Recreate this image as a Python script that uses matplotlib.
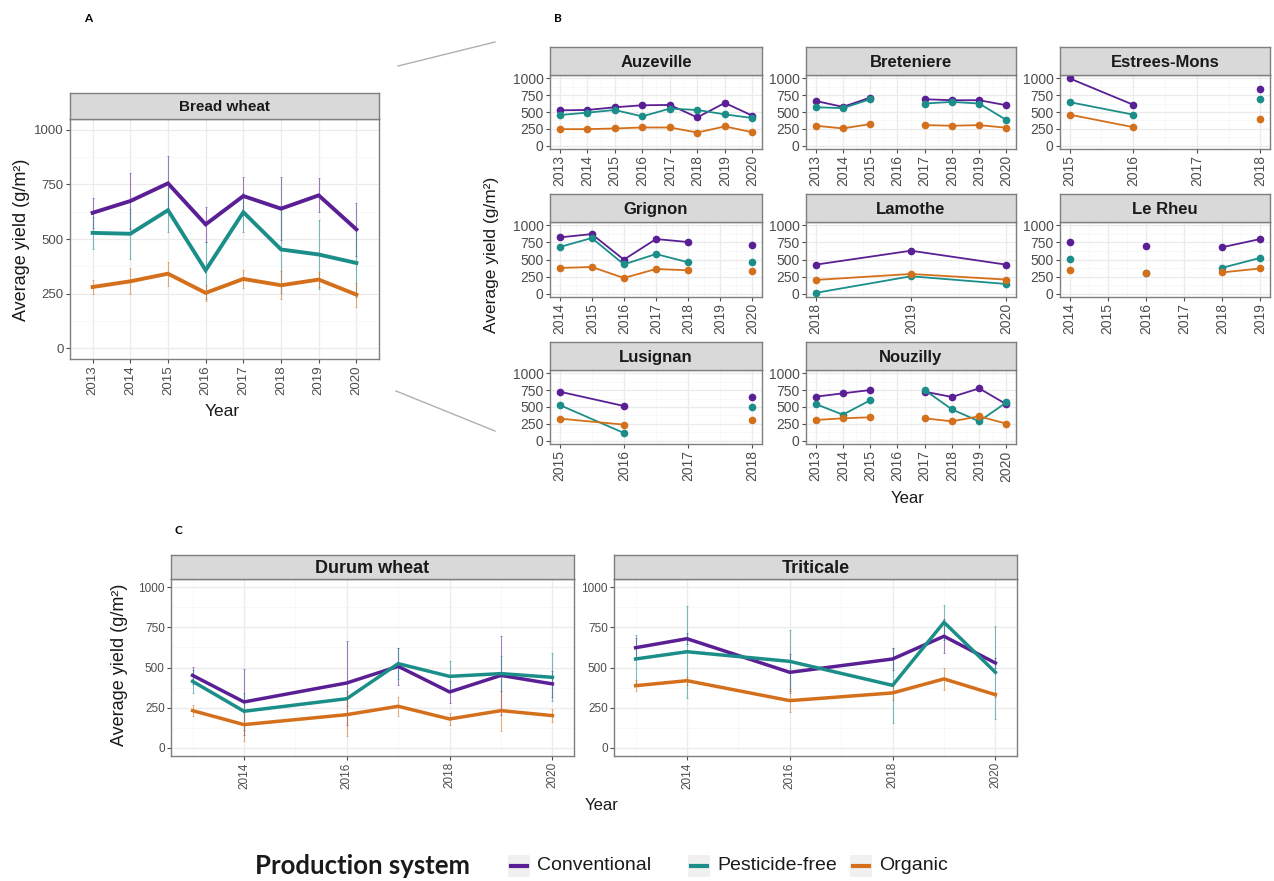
import numpy as np
import matplotlib.pyplot as plt
from matplotlib.lines import Line2D
from matplotlib.patches import Rectangle

plt.rcParams['font.family'] = ['Liberation Sans', 'DejaVu Sans']

W, H = 1274, 881

col_conv = '#5A1F94'
col_pf = '#1B8E89'
col_org = '#D4701B'
systems = ['Conventional', 'Pesticide-free', 'Organic']

# ---- A: bread wheat (means and sd)
bread_years = [2013, 2014, 2015, 2016, 2017, 2018, 2019, 2020]
bread_conv = [620, 674, 755, 567, 697, 639, 700, 544]
bread_pf = [528, 524, 632, 357, 623, 452, 429, 390]
bread_org = [280, 306, 341, 253, 317, 288, 314, 245]
bread_conv_sd = [70, 130, 125, 80, 85, 145, 78, 120]
bread_pf_sd = [75, 115, 100, 130, 90, 200, 160, 155]
bread_org_sd = [30, 60, 55, 35, 40, 65, 35, 55]

# ---- B: bread wheat per site (None = no data)
auzeville_years = [2013, 2014, 2015, 2016, 2017, 2018, 2019, 2020]
auzeville_conv = [525, 530, 570, 600, 605, 420, 635, 445]
auzeville_pf = [455, 490, 530, 435, 550, 530, 465, 410]
auzeville_org = [245, 245, 255, 270, 270, 195, 285, 200]

breteniere_years = [2013, 2014, 2015, 2016, 2017, 2018, 2019, 2020]
breteniere_conv = [665, 576, 714, None, 690, 675, 675, 600]
breteniere_pf = [571, 557, 690, None, 626, 650, 626, 380]
breteniere_org = [296, 256, 320, None, 305, 296, 305, 266]

estrees_years = [2015, 2016, 2017, 2018]
estrees_conv = [1000, 608, None, 843]
estrees_pf = [647, 461, None, 686]
estrees_org = [461, 275, None, 397]

grignon_years = [2014, 2015, 2016, 2017, 2018, 2019, 2020]
grignon_conv = [824, 873, 498, 800, 756, None, 717]
grignon_pf = [683, 815, 429, 580, 459, None, 459]
grignon_org = [376, 390, 229, 361, 341, None, 327]

lamothe_years = [2018, 2019, 2020]
lamothe_conv = [424, 629, 424]
lamothe_pf = [10, 254, 141]
lamothe_org = [200, 288, 205]

lerheu_years = [2014, 2015, 2016, 2017, 2018, 2019]
lerheu_conv = [757, None, 694, None, 680, 801]
lerheu_pf = [510, None, 306, None, 379, 524]
lerheu_org = [340, None, 306, None, 311, 369]

lusignan_years = [2015, 2016, 2017, 2018]
lusignan_conv = [728, 515, None, 649]
lusignan_pf = [530, 114, None, 505]
lusignan_org = [327, 238, None, 302]

nouzilly_years = [2013, 2014, 2015, 2016, 2017, 2018, 2019, 2020]
nouzilly_conv = [653, 703, 752, None, 728, 649, 777, 540]
nouzilly_pf = [545, 386, 599, None, 752, 465, 287, 569]
nouzilly_org = [307, 332, 347, None, 332, 287, 361, 252]

# ---- C: durum wheat and triticale
durum_years = [2013, 2014, 2016, 2017, 2018, 2019, 2020]
durum_conv = [451, 286, 404, 507, 348, 451, 398]
durum_pf = [414, 228, 306, 524, 445, 462, 439]
durum_org = [232, 145, 207, 259, 180, 232, 201]
durum_conv_sd = [55, 205, 260, 115, 70, 245, 80]
durum_pf_sd = [70, 115, 45, 95, 95, 110, 150]
durum_org_sd = [35, 100, 135, 60, 40, 125, 40]

triticale_years = [2013, 2014, 2016, 2018, 2019, 2020]
triticale_conv = [623, 679, 470, 553, 694, 528]
triticale_pf = [553, 598, 538, 389, 781, 470]
triticale_org = [387, 418, 294, 342, 429, 331]
triticale_conv_sd = [60, 35, 115, 70, 105, 30]
triticale_pf_sd = [150, 285, 195, 235, 110, 290]
triticale_org_sd = [35, 25, 70, 45, 70, 15]

fig = plt.figure(figsize=(W / 100, H / 100), dpi=100)


def panel(x0, y0, x1, y1, strip_h, title, title_size, tick_size):
    ax = fig.add_axes([x0 / W, 1 - y1 / H, (x1 - x0) / W, (y1 - y0) / H])
    st = fig.add_axes([x0 / W, 1 - y0 / H, (x1 - x0) / W, strip_h / H])
    st.set_facecolor('#D9D9D9')
    st.set_xticks([])
    st.set_yticks([])
    for s in st.spines.values():
        s.set_color('#7F7F7F')
        s.set_linewidth(1.0)
    st.text(0.5, 0.45, title, ha='center', va='center', fontweight='bold',
            fontsize=title_size, color='#1A1A1A', transform=st.transAxes)
    ax.set_facecolor('white')
    for s in ax.spines.values():
        s.set_color('#7F7F7F')
        s.set_linewidth(1.0)
    ax.set_ylim(-50, 1050)
    ax.set_yticks([0, 250, 500, 750, 1000])
    ax.set_yticks([125, 375, 625, 875], minor=True)
    ax.grid(which='major', color='#EBEBEB', lw=0.9)
    ax.grid(which='minor', color='#F5F5F5', lw=0.5)
    ax.set_axisbelow(True)
    ax.tick_params(which='major', colors='#4D4D4D', labelcolor='#4D4D4D',
                   length=3, width=0.8, labelsize=tick_size, pad=1.5)
    ax.tick_params(which='minor', length=0)
    ax.tick_params(axis='x', labelrotation=90)
    return ax


def draw_means(ax, x, series, sds, lw):
    for y, sd, c in zip(series, sds, [col_conv, col_pf, col_org]):
        ax.errorbar(x, y, yerr=sd, fmt='none', ecolor=c, elinewidth=0.8,
                    capsize=0.8, capthick=0.6, alpha=0.55, zorder=2)
    for y, c in zip(series, [col_conv, col_pf, col_org]):
        ax.plot(x, y, color=c, lw=lw, zorder=3, solid_joinstyle='miter')


# ---- panel A
axA = panel(70, 119, 379, 359, 26, 'Bread wheat', 11, 9.5)
draw_means(axA, bread_years, [bread_conv, bread_pf, bread_org],
           [bread_conv_sd, bread_pf_sd, bread_org_sd], 2.8)
axA.set_xlim(2012.4, 2020.6)
axA.set_xticks(bread_years)
axA.grid(which='major', axis='x', color='#EBEBEB', lw=0.9)
fig.text(22 / W, 1 - 240 / H, 'Average yield (g/m²)', rotation=90,
         ha='center', va='center', fontsize=13, color='#1A1A1A')
fig.text(222 / W, 1 - 412 / H, 'Year', ha='center', va='center',
         fontsize=12.5, color='#1A1A1A')

# ---- panel B
cols = [(550, 762), (806, 1016), (1060, 1270)]
rows = [(75, 149), (222, 297), (370, 444)]
sites = [
    ('Auzeville', auzeville_years, auzeville_conv, auzeville_pf, auzeville_org),
    ('Breteniere', breteniere_years, breteniere_conv, breteniere_pf, breteniere_org),
    ('Estrees-Mons', estrees_years, estrees_conv, estrees_pf, estrees_org),
    ('Grignon', grignon_years, grignon_conv, grignon_pf, grignon_org),
    ('Lamothe', lamothe_years, lamothe_conv, lamothe_pf, lamothe_org),
    ('Le Rheu', lerheu_years, lerheu_conv, lerheu_pf, lerheu_org),
    ('Lusignan', lusignan_years, lusignan_conv, lusignan_pf, lusignan_org),
    ('Nouzilly', nouzilly_years, nouzilly_conv, nouzilly_pf, nouzilly_org),
]
for i, (name, yrs, conv, pf, org) in enumerate(sites):
    (x0, x1), (y0, y1) = cols[i % 3], rows[i // 3]
    ax = panel(x0, y0, x1, y1, 28, name, 12, 10)
    for vals, c in zip([conv, pf, org], [col_conv, col_pf, col_org]):
        ax.plot(yrs, np.array(vals, dtype=float), color=c, lw=1.3,
                marker='o', ms=4.5, zorder=3)
    span = yrs[-1] - yrs[0]
    ax.set_xlim(yrs[0] - 0.05 * span, yrs[-1] + 0.05 * span)
    ax.set_xticks(yrs)
    ax.set_xticks(np.array(yrs[:-1]) + 0.5, minor=True)
fig.text(492 / W, 1 - 255 / H, 'Average yield (g/m²)', rotation=90,
         ha='center', va='center', fontsize=12.5, color='#1A1A1A')
fig.text(908 / W, 1 - 499 / H, 'Year', ha='center', va='center',
         fontsize=12, color='#1A1A1A')

# ---- panel C
for x0, x1, name, yrs, ser, sds in [
        (171, 574, 'Durum wheat', durum_years,
         [durum_conv, durum_pf, durum_org],
         [durum_conv_sd, durum_pf_sd, durum_org_sd]),
        (614, 1017, 'Triticale', triticale_years,
         [triticale_conv, triticale_pf, triticale_org],
         [triticale_conv_sd, triticale_pf_sd, triticale_org_sd])]:
    ax = panel(x0, 579, x1, 756, 24, name, 13, 8.5)
    draw_means(ax, yrs, ser, sds, 2.5)
    ax.set_xlim(2012.58, 2020.42)
    ax.set_xticks([2014, 2016, 2018, 2020])
    ax.set_xticks([2013, 2015, 2017, 2019], minor=True)
fig.text(120 / W, 1 - 665 / H, 'Average yield (g/m²)', rotation=90,
         ha='center', va='center', fontsize=13, color='#1A1A1A')
fig.text(602 / W, 1 - 806 / H, 'Year', ha='center', va='center',
         fontsize=12, color='#1A1A1A')

# ---- panel letters and zoom lines
for lab, x, y in [('A', 88, 18), ('B', 558, 18), ('C', 178, 530)]:
    fig.text(x / W, 1 - y / H, lab, ha='center', va='center',
             fontweight='bold', fontsize=8.5, family='Lato')
for (xa, ya), (xb, yb) in [((398, 66), (495, 42)), ((396, 391), (495, 431))]:
    fig.add_artist(Line2D([xa / W, xb / W], [1 - ya / H, 1 - yb / H],
                          color='#B0B0B0', lw=1.0))

# ---- legend
ly = 866
fig.text(255 / W, 1 - ly / H, 'Production system', ha='left', va='center',
         fontweight='bold', fontsize=18.5, family='Lato', color='#1A1A1A')
for kx, tx, lab, c in [(508, 537, 'Conventional', col_conv),
                       (688, 717, 'Pesticide-free', col_pf),
                       (850, 879, 'Organic', col_org)]:
    fig.add_artist(Rectangle((kx / W, 1 - (ly + 11) / H), 22 / W, 22 / H,
                             facecolor='#F0F0F0', edgecolor='none'))
    fig.add_artist(Line2D([(kx + 3) / W, (kx + 19) / W],
                          [1 - ly / H, 1 - ly / H], color=c, lw=3))
    fig.text(tx / W, 1 - ly / H, lab, ha='left', va='center',
             fontsize=14, color='#1A1A1A')

fig.savefig('out.png', dpi=100)
